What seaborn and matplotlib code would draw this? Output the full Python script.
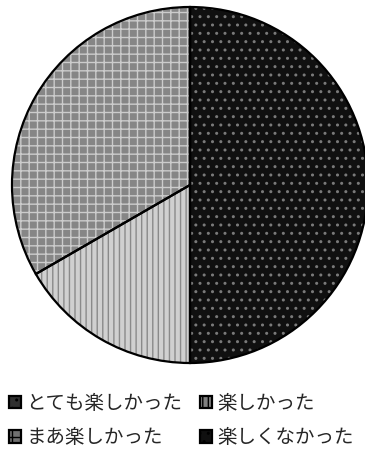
import matplotlib
matplotlib.use("Agg")
import matplotlib.pyplot as plt
from matplotlib.patches import Patch
import seaborn as sns

labels = ["とても楽しかった", "楽しかった", "まあ楽しかった", "楽しくなかった"]
counts = [3, 1, 2, 0]

face_colors = ["#101010", "#d0d0d0", "#868686", "#050505"]
hatch_colors = ["#7a7a7a", "#8a8a8a", "#cccccc", "#505050"]
hatches = ["..", "|||", "++", ".."]
legend_faces = ["#303030", "#808080", "#707070", "#101010"]

sns.set_theme(style="white")
plt.rcParams["font.family"] = ["Noto Sans CJK JP", "DejaVu Sans"]
plt.rcParams["hatch.linewidth"] = 1.0

fig = plt.figure(figsize=(3.65, 4.51), dpi=100)
ax = fig.add_axes([12 / 365, 88 / 451, 356 / 365, 356 / 451])

# patterned fill (hatch colour follows the edge colour)
wedges, _ = ax.pie(counts, startangle=90, counterclock=False, radius=1,
                   colors=face_colors,
                   wedgeprops=dict(linewidth=0))
for w, hc, h in zip(wedges, hatch_colors, hatches):
    w.set_edgecolor(hc)
    w.set_hatch(h)
    w.set_clip_on(False)

# black outlines on top
outline, _ = ax.pie(counts, startangle=90, counterclock=False, radius=1,
                    wedgeprops=dict(fill=False, edgecolor="black", linewidth=1.6))
for w in outline:
    w.set_clip_on(False)
ax.set_xlim(-1, 1)
ax.set_ylim(-1, 1)
ax.set_aspect("equal")
ax.axis("off")

handles = [Patch(facecolor=fc, edgecolor="black", hatch=h, linewidth=1.6)
           for fc, h in zip(legend_faces, hatches)]

# two columns; matplotlib fills column-first
order = [0, 2, 1, 3]
fig.legend([handles[i] for i in order], [labels[i] for i in order],
           ncol=2, loc="upper left", bbox_to_anchor=(9 / 365, 1 - 393 / 451),
           frameon=False, fontsize=14, handlelength=0.6, handleheight=0.6,
           handletextpad=0.3, columnspacing=0.9, labelspacing=0.68,
           borderaxespad=0, borderpad=0)

fig.savefig("out.png", dpi=100)
